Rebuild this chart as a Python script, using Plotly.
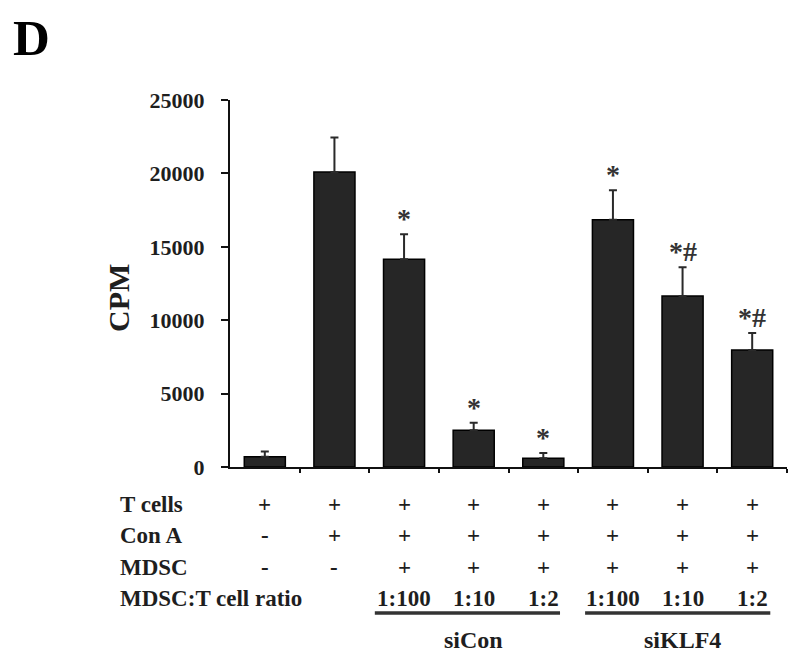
import plotly.graph_objects as go

# ---- data ----
positions = [0, 1, 2, 3, 4, 5, 6, 7]
cpm = [700, 20100, 14150, 2500, 600, 16850, 11650, 7970]
cpm_err = [350, 2350, 1700, 520, 350, 2000, 1950, 1150]
significance = ["", "", "*", "*", "*", "*", "*#", "*#"]
row_names = ["T cells", "Con A", "MDSC", "MDSC:T cell ratio"]
t_cells = ["+", "+", "+", "+", "+", "+", "+", "+"]
con_a = ["-", "+", "+", "+", "+", "+", "+", "+"]
mdsc = ["-", "-", "+", "+", "+", "+", "+", "+"]
ratio = ["", "", "1:100", "1:10", "1:2", "1:100", "1:10", "1:2"]
groups = ["siCon", "siKLF4"]
group_center = [3, 6]
group_span = [(1.58, 4.24), (4.6, 7.26)]
y_ticks = [0, 5000, 10000, 15000, 20000, 25000]

# ---- layout geometry (pixels of the 800x658 page; body has an 8px margin) ----
OFF = 8
W, H = 800 - OFF, 658 - OFF
L, R = 230 - OFF, 13
T, B = 100 - OFF, 658 - 467
PH = H - T - B
PW = W - L - R


def py(p):  # page pixel y -> paper y
    return (H - B - (p - OFF)) / PH


def px(p):  # page pixel x -> paper x
    return ((p - OFF) - L) / PW


FONT = "Liberation Serif"
INK = "#1e1e1e"

fig = go.Figure()
fig.add_trace(go.Bar(
    x=positions, y=cpm, width=0.59,
    marker=dict(color="#262626", line=dict(color="#000000", width=1.5)),
    error_y=dict(type="data", array=cpm_err, arrayminus=[0] * len(cpm_err),
                 symmetric=False, color="#2a2a2a", thickness=2, width=4),
    showlegend=False, hoverinfo="skip",
))

ann = []
# significance marks
for xi, v, e, s in zip(positions, cpm, cpm_err, significance):
    if s:
        ann.append(dict(x=xi, y=v + e, xref="x", yref="y", text="<b>%s</b>" % s, showarrow=False,
                        yanchor="bottom", yshift=-2,
                        font=dict(family=FONT, size=28, color="#333333")))

# table rows
row_y = [504, 535, 567, 598]
rows = [t_cells, con_a, mdsc, ratio]
for name, yy, vals in zip(row_names, row_y, rows):
    ann.append(dict(x=px(118), y=py(yy), xref="paper", yref="paper", text="<b>%s</b>" % name,
                    showarrow=False, xanchor="left", yanchor="middle",
                    font=dict(family=FONT, size=23, color=INK)))
    for xi, v in zip(positions, vals):
        if v:
            ann.append(dict(x=xi, y=py(yy), xref="x", yref="paper", text="<b>%s</b>" % v,
                            showarrow=False, xanchor="center", yanchor="middle",
                            font=dict(family=FONT, size=23, color=INK)))

shapes = []
for g, c, (a, b) in zip(groups, group_center, group_span):
    shapes.append(dict(type="line", xref="x", yref="paper", x0=a, x1=b,
                       y0=py(613), y1=py(613), line=dict(color="#333333", width=3.5)))
    ann.append(dict(x=c, y=py(640), xref="x", yref="paper", text="<b>%s</b>" % g,
                    showarrow=False, xanchor="center", yanchor="middle",
                    font=dict(family=FONT, size=24, color=INK)))

# y-axis title
ann.append(dict(x=px(118), y=py(298), xref="paper", yref="paper", text="<b>CPM</b>",
                showarrow=False, textangle=-90, xanchor="center", yanchor="middle",
                font=dict(family=FONT, size=30, color=INK)))

# panel letter
ann.append(dict(x=px(11), y=py(8), xref="paper", yref="paper", text="<b>D</b>",
                showarrow=False, xanchor="left", yanchor="top",
                font=dict(family=FONT, size=51, color="#000000")))

fig.update_layout(
    width=W, height=H,
    margin=dict(l=L, r=R, t=T, b=B, pad=0),
    paper_bgcolor="white", plot_bgcolor="white",
    annotations=ann, shapes=shapes,
    xaxis=dict(range=[-0.5, 7.5], showgrid=False, zeroline=False,
               showline=True, linecolor="#111111", linewidth=2,
               tickmode="array", tickvals=[p + 0.5 for p in positions],
               ticktext=[""] * len(positions),
               ticks="outside", ticklen=4, tickwidth=2, tickcolor="#111111",
               fixedrange=True),
    yaxis=dict(range=[0, 25000], showgrid=False, zeroline=False,
               showline=True, linecolor="#111111", linewidth=2,
               tickmode="array", tickvals=y_ticks, ticktext=["<b>%d</b>" % v for v in y_ticks],
               ticks="outside", ticklen=7, tickwidth=2, tickcolor="#111111",
               ticklabelstandoff=12,
               tickfont=dict(family=FONT, size=22, color=INK),
               fixedrange=True),
)

fig.write_html("out.html")
